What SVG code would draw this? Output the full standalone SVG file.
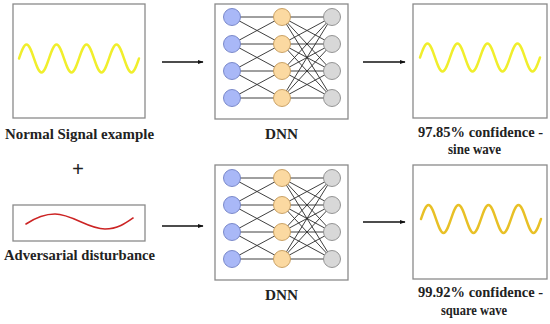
<svg xmlns="http://www.w3.org/2000/svg" xmlns:xlink="http://www.w3.org/1999/xlink" width="550" height="324" viewBox="0 0 550 324">
<style>
.box{fill:#fff;stroke:#8a8a8a;stroke-width:1.3}
.lbl{font-family:"Liberation Serif","Times New Roman",serif;font-weight:bold;font-size:15px;fill:#222;text-anchor:middle}
.wave{fill:none;stroke-width:2.4;stroke-linecap:round}
.edge{stroke:#2a2a2a;stroke-width:0.9}
.nb{fill:#a9b8f7;stroke:#7180c4;stroke-width:0.9}
.no{fill:#fbd9a1;stroke:#c49a5a;stroke-width:0.9}
.ng{fill:#d8d8d8;stroke:#8a8a8a;stroke-width:0.9}
.arr{stroke:#111;stroke-width:1.3;fill:none}
</style>
<defs>
<marker id="ah" viewBox="0 0 10 10" refX="9" refY="5" markerWidth="6" markerHeight="6" orient="auto" markerUnits="userSpaceOnUse">
<path d="M0,1.5 L10,5 L0,8.5 Z" fill="#111"/>
</marker>
<path id="sine" d="M0,0 C2.45,-7.17 4.79,-14 7.5,-14 C12.96,-14 17.04,14 22.5,14 S32.04,-14 37.5,-14 S47.04,14 52.5,14 S62.04,-14 67.5,-14 S77.04,14 82.5,14 S92.04,-14 97.5,-14 S107.04,14 112.5,14 C115.21,14 117.55,7.17 120,0"/>
<g id="net">
<rect class="box" x="215" y="4" width="133" height="115"/>
<g class="edge">
<line x1="232" y1="17" x2="282" y2="17"/><line x1="232" y1="17" x2="282" y2="44"/>
<line x1="232" y1="44" x2="282" y2="17"/><line x1="232" y1="44" x2="282" y2="44"/><line x1="232" y1="44" x2="282" y2="71"/>
<line x1="232" y1="71" x2="282" y2="44"/><line x1="232" y1="71" x2="282" y2="71"/><line x1="232" y1="71" x2="282" y2="98"/>
<line x1="232" y1="98" x2="282" y2="71"/><line x1="232" y1="98" x2="282" y2="98"/>
<line x1="282" y1="17" x2="332" y2="17"/><line x1="282" y1="17" x2="332" y2="44"/><line x1="282" y1="17" x2="332" y2="71"/><line x1="282" y1="17" x2="332" y2="98"/>
<line x1="282" y1="44" x2="332" y2="17"/><line x1="282" y1="44" x2="332" y2="44"/><line x1="282" y1="44" x2="332" y2="71"/><line x1="282" y1="44" x2="332" y2="98"/>
<line x1="282" y1="71" x2="332" y2="17"/><line x1="282" y1="71" x2="332" y2="44"/><line x1="282" y1="71" x2="332" y2="71"/><line x1="282" y1="71" x2="332" y2="98"/>
<line x1="282" y1="98" x2="332" y2="17"/><line x1="282" y1="98" x2="332" y2="44"/><line x1="282" y1="98" x2="332" y2="71"/><line x1="282" y1="98" x2="332" y2="98"/>
</g>
<circle class="nb" cx="232" cy="17" r="8.5"/><circle class="nb" cx="232" cy="44" r="8.5"/><circle class="nb" cx="232" cy="71" r="8.5"/><circle class="nb" cx="232" cy="98" r="8.5"/>
<circle class="no" cx="282" cy="17" r="8.5"/><circle class="no" cx="282" cy="44" r="8.5"/><circle class="no" cx="282" cy="71" r="8.5"/><circle class="no" cx="282" cy="98" r="8.5"/>
<circle class="ng" cx="332" cy="17" r="8.5"/><circle class="ng" cx="332" cy="44" r="8.5"/><circle class="ng" cx="332" cy="71" r="8.5"/><circle class="ng" cx="332" cy="98" r="8.5"/>
</g>
</defs>
<rect width="550" height="324" fill="#fff"/>

<g id="normal-signal">
<rect class="box" x="13" y="4" width="132" height="114"/>
<use xlink:href="#sine" class="wave" stroke="#f0ee2c" transform="translate(19,58.5)"/>
<text class="lbl" x="79.5" y="138.5" textLength="149" lengthAdjust="spacingAndGlyphs">Normal Signal example</text>
</g>

<g id="plus">
<text class="lbl" x="78" y="176" style="font-size:21px">+</text>
</g>

<g id="adversarial">
<rect class="box" x="13" y="205" width="132" height="36"/>
<path d="M26,224 C38,216 46,214 55,214 C72,214 88,229 105,229 C118,229 126,223 133,218" fill="none" stroke="#cc2424" stroke-width="1.6" stroke-linecap="round"/>
<text class="lbl" x="79.5" y="260" textLength="151" lengthAdjust="spacingAndGlyphs">Adversarial disturbance</text>
</g>

<g id="dnn-top">
<use xlink:href="#net"/>
<text class="lbl" x="281.5" y="138.5" textLength="33" lengthAdjust="spacingAndGlyphs">DNN</text>
</g>

<g id="dnn-bottom">
<use xlink:href="#net" transform="translate(0,161)"/>
<text class="lbl" x="281.5" y="300" textLength="33" lengthAdjust="spacingAndGlyphs">DNN</text>
</g>

<g id="out-sine">
<rect class="box" x="413" y="4" width="134" height="114"/>
<use xlink:href="#sine" class="wave" stroke="#f0ee2c" transform="translate(420,57.5)"/>
<text class="lbl" x="480.5" y="137" textLength="125" lengthAdjust="spacingAndGlyphs">97.85% confidence -</text>
<text class="lbl" x="474.5" y="154" textLength="53" lengthAdjust="spacingAndGlyphs">sine wave</text>
</g>

<g id="out-square">
<rect class="box" x="413" y="165" width="134" height="114"/>
<use xlink:href="#sine" class="wave" stroke="#e8c026" transform="translate(421,219)"/>
<text class="lbl" x="480.5" y="297" textLength="125" lengthAdjust="spacingAndGlyphs">99.92% confidence -</text>
<text class="lbl" x="474" y="315" textLength="66" lengthAdjust="spacingAndGlyphs">square wave</text>
</g>

<g id="connectors">
<line class="arr" x1="162" y1="62" x2="203" y2="62" marker-end="url(#ah)"/>
<line class="arr" x1="363" y1="62" x2="405" y2="62" marker-end="url(#ah)"/>
<line class="arr" x1="162" y1="226" x2="203" y2="226" marker-end="url(#ah)"/>
<line class="arr" x1="363" y1="222" x2="405" y2="222" marker-end="url(#ah)"/>
</g>
</svg>
